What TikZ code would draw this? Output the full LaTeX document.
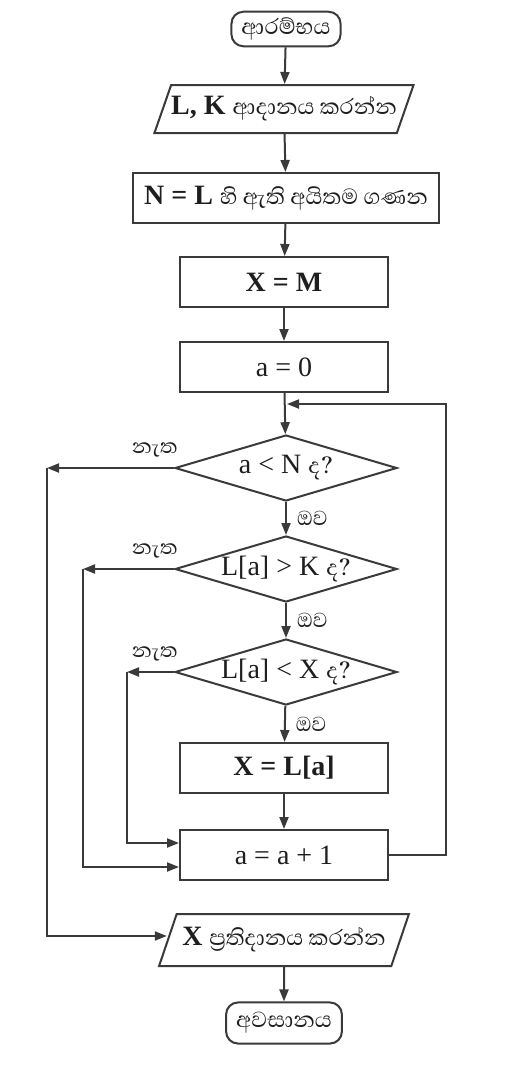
\documentclass[tikz,border=0pt]{standalone}
\usepackage{fontspec}
\setmainfont{Liberation Serif}
\newfontfamily\sinfont[Script=Sinhala]{Abhaya Libre}
\usetikzlibrary{arrows.meta,shapes.geometric}
\definecolor{lineink}{RGB}{58,58,58}
\definecolor{textink}{RGB}{30,30,30}

\begin{document}
\begin{tikzpicture}[x=0.5pt,y=-0.5pt,
  font=\fontsize{14}{16}\selectfont,
  box/.style={draw=lineink,line width=1pt,text=textink,inner sep=2pt},
  proc/.style={box,minimum width=104pt,minimum height=25pt},
  term/.style={box,rounded corners=6pt,inner xsep=5pt,inner ysep=3pt},
  io/.style={box,trapezium,trapezium left angle=63,trapezium right angle=117,
    trapezium stretches=true,minimum width=125pt,minimum height=24pt,inner xsep=0pt},
  test/.style={box,diamond,aspect=3.4,inner sep=0pt,minimum width=111pt,minimum height=33pt},
  arr/.style={-{Triangle[length=6pt,width=4.5pt]},draw=lineink,line width=1pt},
  lbl/.style={text=textink,font=\sinfont\fontsize{13}{15}\selectfont,inner sep=1pt}]
  \useasboundingbox[fill=white] (0,0) rectangle (510,1067);
  % main column
  \node[term] (start) at (286,29) {\sinfont ආරම්භය};
  \node[io] (in) at (284,109) {\textbf{L, K} {\sinfont ආදානය කරන්න}};
  \node[proc,minimum width=153pt] (cnt) at (286,198) {\textbf{N = L} {\sinfont හි ඇති අයිතම ගණන}};
  \node[proc] (setx) at (284,282) {\textbf{X = M}};
  \node[proc] (seta) at (284,367) {a = 0};
  \node[test] (d1) at (286,468) {a < N {\sinfont ද?}};
  \node[test] (d2) at (286,569) {L[a] > K {\sinfont ද?}};
  \node[test] (d3) at (286,672) {L[a] < X {\sinfont ද?}};
  \node[proc] (newx) at (284,768) {\textbf{X = L[a]}};
  \node[proc] (inc) at (284,855) {a = a + 1};
  \node[io,minimum height=26pt] (out) at (284,940) {\textbf{X} {\sinfont ප්‍රතිදානය කරන්න}};
  \node[term,inner ysep=5pt] (end) at (284,1023) {\sinfont අවසානය};
  % bends
  \coordinate (loop) at (287,404);
  \coordinate (c1) at (47,468);
  \coordinate (c2) at (83,569);
  \coordinate (c3) at (127,672);
  % straight down
  \draw[arr] (start) -- (in);
  \draw[arr] (in) -- (cnt);
  \draw[arr] (cnt) -- (setx);
  \draw[arr] (setx) -- (seta);
  \draw[arr] (seta) -- (d1);
  \draw[arr] (d1) -- node[lbl,right,xshift=4pt] (y1) {ඔව} (d2);
  \draw[arr] (d2) -- node[lbl,right,xshift=4pt] (y2) {ඔව} (d3);
  \draw[arr] (d3) -- node[lbl,right,xshift=4pt] (y3) {ඔව} (newx);
  \draw[arr] (newx) -- (inc);
  \draw[arr] (out) -- (end);
  % no branches
  \node[lbl,anchor=south east] (n1) at ([xshift=3pt,yshift=4pt]d1.west) {නැත};
  \node[lbl,anchor=south east] (n2) at ([xshift=3pt,yshift=4pt]d2.west) {නැත};
  \node[lbl,anchor=south east] (n3) at ([xshift=3pt,yshift=4pt]d3.west) {නැත};
  \draw[arr] (d1.west) -- (c1);
  \draw[arr] (c1) |- ([yshift=2pt]out.west);
  \draw[arr] (d2.west) -- (c2);
  \draw[arr] (c2) |- ([yshift=-6pt]inc.west);
  \draw[arr] (d3.west) -- (c3);
  \draw[arr] (c3) |- ([yshift=6pt]inc.west);
  % back to the test
  \draw[arr] (inc.east) -- ++(57,0) |- (loop);
\end{tikzpicture}
\end{document}
